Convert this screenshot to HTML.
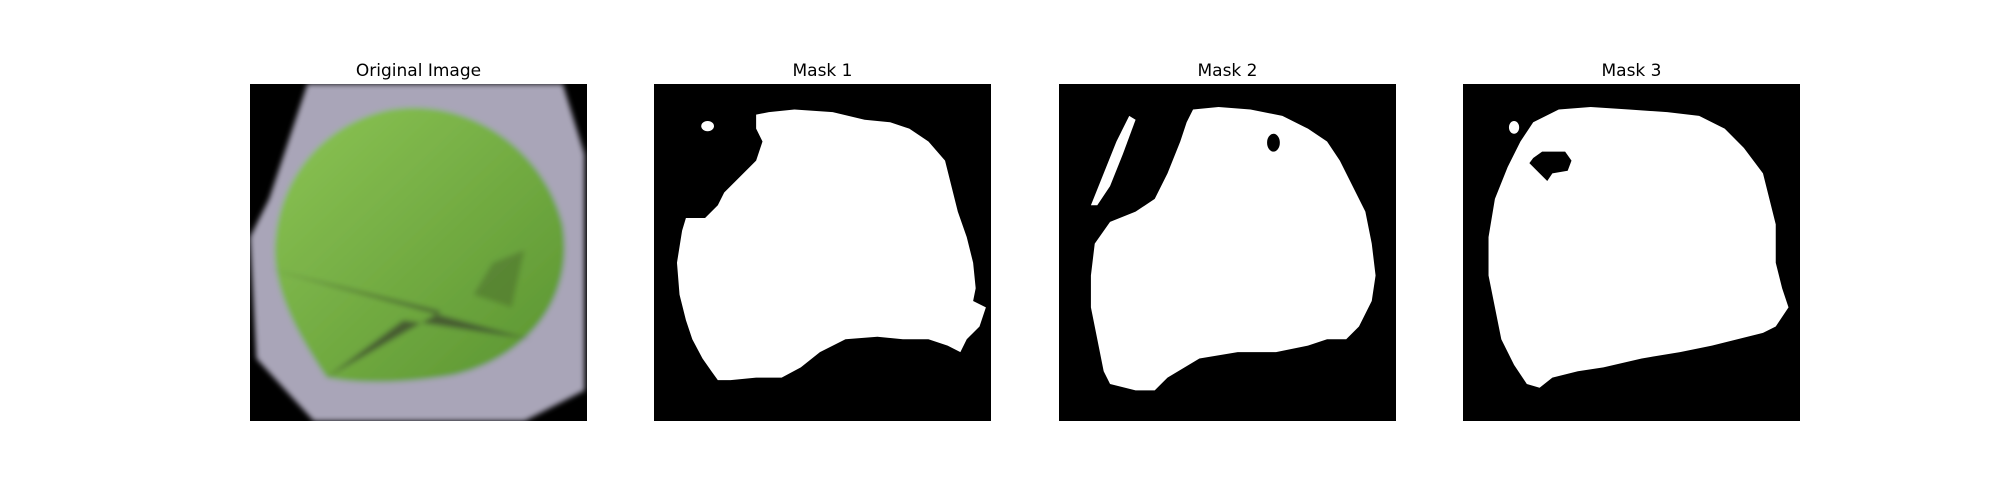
<!DOCTYPE html>
<html><head><meta charset="utf-8"><style>
body{margin:0;background:#fff;width:2000px;height:500px;overflow:hidden;position:relative;font-family:"Liberation Sans","DejaVu Sans",sans-serif}
.t{position:absolute;top:61px;width:337px;text-align:center;font-size:17px;color:#000;font-family:"DejaVu Sans","Liberation Sans",sans-serif}
svg{position:absolute;top:84px}
</style></head><body>
<div class="t" style="left:250px">Original Image</div>
<div class="t" style="left:654px">Mask 1</div>
<div class="t" style="left:1059px">Mask 2</div>
<div class="t" style="left:1463px">Mask 3</div>

<svg style="left:250px" width="337" height="337" viewBox="0 0 264 264">
<defs><filter id="b"><feGaussianBlur stdDeviation="2"/></filter>
<linearGradient id="g" x1="0" y1="0" x2="1" y2="1"><stop offset="0" stop-color="#8cc455"/><stop offset="1" stop-color="#5a9430"/></linearGradient></defs>
<rect width="264" height="264" fill="#000"/>
<g filter="url(#b)">
<polygon points="45,0 245,0 262,55 262,240 215,264 50,264 5,215 0,120 15,90" fill="#a9a5b8"/>
<path d="M60,230 C40,200 15,160 20,120 C25,70 60,30 110,20 C170,10 230,50 245,110 C255,170 215,215 160,228 C120,235 85,235 60,230 Z" fill="url(#g)"/>
<polygon points="15,145 220,200 120,185 60,230 150,178" fill="#3d4a2e" opacity="0.8"/>
<polygon points="190,140 215,130 205,175 175,165" fill="#4a6a2c" opacity="0.5"/>
</g>
</svg>

<svg style="left:654px" width="337" height="337" viewBox="0 0 264 264">
<rect width="264" height="264" fill="#000"/>
<polygon fill="#fff" points="80,24 90,22 110,20 140,22 165,28 185,30 200,35 215,45 228,60 233,80 238,100 245,120 250,140 252,160 250,170 260,175 255,190 245,200 240,210 230,205 215,200 195,200 175,198 150,200 130,210 115,222 100,230 80,230 60,232 50,232 45,225 38,215 30,200 25,185 20,165 18,140 22,115 25,105 40,105 50,95 55,85 70,70 80,60 85,45 80,35"/>
<ellipse cx="42" cy="33" rx="5" ry="4" fill="#fff"/>
</svg>

<svg style="left:1059px" width="337" height="337" viewBox="0 0 264 264">
<rect width="264" height="264" fill="#000"/>
<polygon fill="#fff" points="105,20 125,18 150,20 175,25 195,35 210,45 220,60 230,80 240,100 245,125 248,150 245,170 235,190 225,200 210,200 195,205 170,210 140,210 110,215 85,230 75,240 60,240 40,235 35,225 30,200 25,175 25,150 28,125 40,108 60,100 75,90 85,70 95,45 100,30"/>
<polygon fill="#fff" points="25,95 35,70 45,45 55,25 60,28 50,55 40,80 30,95"/>
<ellipse cx="168" cy="46" rx="5" ry="7" fill="#000"/>
</svg>

<svg style="left:1463px" width="337" height="337" viewBox="0 0 264 264">
<rect width="264" height="264" fill="#000"/>
<polygon fill="#fff" points="55,30 75,20 100,18 130,20 160,22 185,25 205,35 220,50 235,70 240,90 245,110 245,140 250,160 255,175 245,190 235,195 215,200 195,205 170,210 140,215 110,222 90,225 70,230 60,238 50,235 40,220 30,200 25,175 20,150 20,120 25,90 35,65 45,45"/>
<polygon fill="#000" points="55,58 62,53 80,53 85,60 82,68 70,70 66,76 60,70 52,62"/>
<ellipse cx="40" cy="34" rx="4" ry="5" fill="#fff"/>
</svg>
</body></html>
